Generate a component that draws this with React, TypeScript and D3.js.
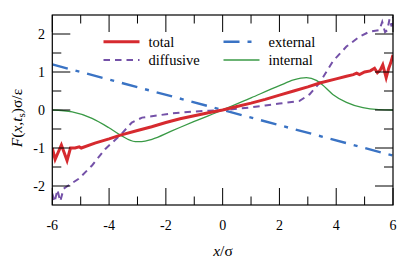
import React from "react";
import * as d3 from "d3";

const W = 415;
const H = 263;

const xTicks = [-6, -4, -2, 0, 2, 4, 6];
const xMinorTicks = [-5, -3, -1, 1, 3, 5];
const yTicks = [-2, -1, 0, 1, 2];
const yMinorTicks = [-1.5, -0.5, 0.5, 1.5];

const totalX = [-6, -5.9, -5.68, -5.48, -5.36, -5.2, -5.05, -4.98, -4.5, -4, -3.6, -3, -2.5, -2, -1.5, -1, -0.5, 0, 0.5, 1, 1.5, 2, 2.5, 3, 3.42, 4, 4.36, 4.6, 4.72, 4.82, 5.0, 5.2, 5.35, 5.45, 5.55, 5.64, 5.76, 5.85, 5.92, 6];
const totalY = [-1.0, -1.3, -0.92, -1.33, -1.0, -1.0, -0.97, -1.0, -0.87, -0.76, -0.66, -0.54, -0.44, -0.33, -0.23, -0.15, -0.07, 0, 0.09, 0.18, 0.28, 0.39, 0.5, 0.61, 0.71, 0.82, 0.89, 0.93, 0.97, 0.93, 1.0, 1.03, 1.1, 0.98, 1.05, 1.19, 0.85, 1.1, 1.24, 1.45];

const diffX = [-6, -5.92, -5.82, -5.72, -5.6, -5.5, -5.07, -4.6, -4.14, -3.6, -3.2, -2.84, -2.26, -1.79, -1.5, -1, -0.5, 0, 0.5, 1, 1.5, 2, 2.71, 3.06, 3.42, 3.88, 4.36, 4.82, 5.17, 5.52, 5.62, 5.72, 5.8, 5.88, 5.95, 6];
const diffY = [-2.2, -2.42, -2.1, -2.4, -2.07, -2.02, -1.81, -1.46, -1.03, -0.66, -0.33, -0.2, -0.14, -0.09, -0.07, -0.04, -0.02, 0, 0.03, 0.07, 0.12, 0.17, 0.24, 0.41, 0.72, 1.28, 1.67, 1.93, 2.06, 2.1, 2.32, 2.05, 2.1, 2.4, 2.2, 2.45];

const extX = [-6, 6];
const extY = [1.2, -1.2];

const intX = [-6, -5.3, -4.6, -4.02, -3.6, -3.08, -2.85, -2.49, -1.79, -1.0, 0, 1, 2, 2.5, 2.95, 3.3, 3.5, 3.88, 4.36, 4.94, 5.5, 6];
const intY = [0, -0.05, -0.22, -0.46, -0.66, -0.83, -0.83, -0.77, -0.55, -0.3, 0, 0.32, 0.64, 0.79, 0.85, 0.78, 0.67, 0.41, 0.2, 0.06, 0.01, 0];

const FONT = "'Liberation Serif', 'DejaVu Serif', serif";

export default function App() {
  const x = d3.scaleLinear().domain([-6, 6]).range([52.3, 393]);
  const y = d3.scaleLinear().domain([-2.5, 2.5]).range([205, 15]);
  const [x0, x1] = x.range();
  const [y0, y1] = y.range();

  const line = (xs: number[], ys: number[], curve = d3.curveLinear) =>
    d3
      .line<number>()
      .x((_, i) => x(xs[i]))
      .y((d) => y(d))
      .curve(curve)(ys) || "";

  const series = [
    { name: "external", xs: extX, ys: extY, color: "#3a73c4", w: 2.4, dash: "16,8,4,8", curve: d3.curveLinear },
    { name: "internal", xs: intX, ys: intY, color: "#3a9a46", w: 1.3, dash: "", curve: d3.curveMonotoneX },
    { name: "diffusive", xs: diffX, ys: diffY, color: "#7451a8", w: 2, dash: "6.5,5", curve: d3.curveLinear },
    { name: "total", xs: totalX, ys: totalY, color: "#d62a2f", w: 3, dash: "", curve: d3.curveLinear },
  ];
  const byName = (n: string) => series.find((s) => s.name === n)!;

  const legend = [
    { name: "total", col: 0, row: 0 },
    { name: "diffusive", col: 0, row: 1 },
    { name: "external", col: 1, row: 0 },
    { name: "internal", col: 1, row: 1 },
  ];

  return (
    <svg width={W} height={H} style={{ position: "absolute", left: 0, top: 0, background: "#fff" }} fontFamily={FONT}>
      <defs>
        <clipPath id="plot">
          <rect x={x0} y={y1} width={x1 - x0} height={y0 - y1} />
        </clipPath>
      </defs>
      <rect x={0} y={0} width={W} height={H} fill="#fff" />
      <g clipPath="url(#plot)">
        {series.map((s) => (
          <path
            key={s.name}
            d={line(s.xs, s.ys, s.curve)}
            fill="none"
            stroke={s.color}
            strokeWidth={s.w}
            strokeDasharray={s.dash || undefined}
            strokeLinejoin="miter"
          />
        ))}
      </g>
      {/* ticks */}
      <g stroke="#000" strokeWidth={1}>
        {xTicks.map((t) => (
          <g key={"xt" + t}>
            <line x1={x(t)} x2={x(t)} y1={y0} y2={y0 - 17} />
            <line x1={x(t)} x2={x(t)} y1={y1} y2={y1 + 17} />
          </g>
        ))}
        {xMinorTicks.map((t) => (
          <g key={"xm" + t}>
            <line x1={x(t)} x2={x(t)} y1={y0} y2={y0 - 8.5} />
            <line x1={x(t)} x2={x(t)} y1={y1} y2={y1 + 8.5} />
          </g>
        ))}
        {yTicks.map((t) => (
          <g key={"yt" + t}>
            <line x1={x0} x2={x0 + 18} y1={y(t)} y2={y(t)} />
            <line x1={x1} x2={x1 - 18} y1={y(t)} y2={y(t)} />
          </g>
        ))}
        {yMinorTicks.map((t) => (
          <g key={"ym" + t}>
            <line x1={x0} x2={x0 + 9} y1={y(t)} y2={y(t)} />
            <line x1={x1} x2={x1 - 9} y1={y(t)} y2={y(t)} />
          </g>
        ))}
      </g>
      <rect x={x0} y={y1} width={x1 - x0} height={y0 - y1} fill="none" stroke="#000" strokeWidth={1.2} />
      {/* tick labels */}
      <g fontSize={14} fill="#000">
        {xTicks.map((t) => (
          <text key={"xl" + t} x={x(t)} y={229.5} textAnchor="middle">
            {t}
          </text>
        ))}
        {yTicks.map((t) => (
          <text key={"yl" + t} x={45} y={y(t) + 4.8} textAnchor="end">
            {t}
          </text>
        ))}
      </g>
      {/* legend */}
      <g fontSize={14.5}>
        {legend.map((l) => {
          const s = byName(l.name);
          const lx = l.col === 0 ? 103.5 : 223.5;
          const ly = 41.7 + l.row * 18.3;
          return (
            <g key={"lg" + l.name}>
              <line x1={lx} x2={lx + 36} y1={ly} y2={ly} stroke={s.color} strokeWidth={s.w} strokeDasharray={s.dash || undefined} />
              <text x={lx + 45} y={ly + 5} fill="#000">
                {l.name}
              </text>
            </g>
          );
        })}
      </g>
      {/* axis titles */}
      <text x={223} y={256} textAnchor="middle" fontSize={15.5}>
        <tspan fontStyle="italic">x</tspan>/σ
      </text>
      <text transform="translate(22,118) rotate(-90)" textAnchor="middle" fontSize={15.5}>
        <tspan fontStyle="italic">F</tspan>(<tspan fontStyle="italic">x</tspan>,<tspan fontStyle="italic">t</tspan>
        <tspan fontSize={11} dy={3}>s</tspan>
        <tspan dy={-3}>)σ/ε</tspan>
      </text>
    </svg>
  );
}
